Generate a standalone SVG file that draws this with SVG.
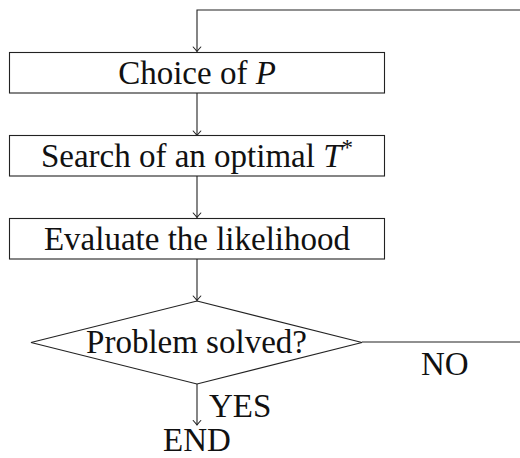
<svg xmlns="http://www.w3.org/2000/svg" width="520" height="458" viewBox="0 0 520 458">
<style>
.node{fill:#fff;stroke:#222;stroke-width:1.1}
.edge{fill:none;stroke:#222;stroke-width:1.1}
text{font-family:"Liberation Serif","Times New Roman",serif;font-size:33px;fill:#111}
.c{text-anchor:middle}
</style>
<defs>
<marker id="arr" viewBox="-6 -5 8 10" refX="0" refY="0" markerWidth="8" markerHeight="10" markerUnits="userSpaceOnUse" orient="auto">
<path d="M-4.5,-3.8 Q-1.2,-0.8 0,0 Q-1.2,0.8 -4.5,3.8" fill="none" stroke="#222" stroke-width="1.1" stroke-linecap="round"/>
</marker>
</defs>
<g id="connectors">
<path class="edge" d="M362,342 H521 V10 H197 V51.5" marker-end="url(#arr)"/>
<path class="edge" d="M197,93 V135.5" marker-end="url(#arr)"/>
<path class="edge" d="M197,176 V217.5" marker-end="url(#arr)"/>
<path class="edge" d="M197,259 V300.5" marker-end="url(#arr)"/>
<path class="edge" d="M197,384 V425" marker-end="url(#arr)"/>
</g>
<g id="choice">
<rect class="node" x="9.5" y="52.5" width="375" height="40.5"/>
<text class="c" x="197" y="84">Choice of <tspan font-style="italic">P</tspan></text>
</g>
<g id="search">
<rect class="node" x="9.5" y="135.5" width="375" height="40.5"/>
<text class="c" x="197" y="167">Search of an optimal <tspan font-style="italic">T</tspan><tspan font-size="23" dy="-12">*</tspan></text>
</g>
<g id="evaluate">
<rect class="node" x="9.5" y="218.5" width="375" height="40.5"/>
<text class="c" x="197" y="250">Evaluate the likelihood</text>
</g>
<g id="decision">
<polygon class="node" points="197,301 362,342.5 197,384 31,342.5"/>
<text class="c" x="196.5" y="353">Problem solved?</text>
</g>
<g id="labels">
<text x="421" y="375">NO</text>
<text x="209" y="417">YES</text>
</g>
<g id="end">
<text class="c" x="197" y="451">END</text>
</g>
</svg>
